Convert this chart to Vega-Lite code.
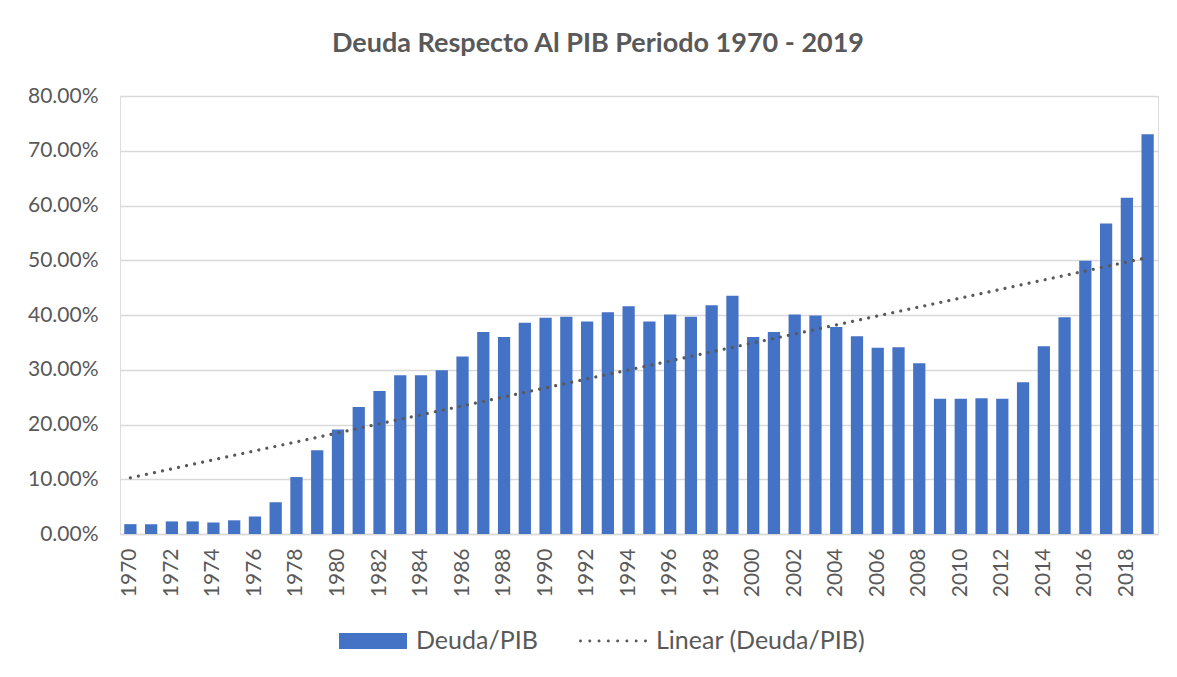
{
  "$schema": "https://vega.github.io/schema/vega-lite/v6.json",
  "autosize": "none",
  "width": 1038,
  "height": 438,
  "padding": {"left": 120, "top": 96, "right": 19, "bottom": 143},
  "background": "white",
  "title": {
    "text": "Deuda Respecto Al PIB Periodo 1970 - 2019",
    "font": "Lato",
    "fontSize": 27,
    "fontWeight": "bold",
    "color": "#595959",
    "anchor": "middle",
    "dx": -41,
    "baseline": "middle",
    "offset": 14
  },
  "data": {
    "values": [
      {"year": 1970, "value": 0.018}, {"year": 1971, "value": 0.018}, {"year": 1972, "value": 0.023},
      {"year": 1973, "value": 0.023}, {"year": 1974, "value": 0.021}, {"year": 1975, "value": 0.025},
      {"year": 1976, "value": 0.032}, {"year": 1977, "value": 0.058}, {"year": 1978, "value": 0.104},
      {"year": 1979, "value": 0.153}, {"year": 1980, "value": 0.191}, {"year": 1981, "value": 0.232},
      {"year": 1982, "value": 0.261}, {"year": 1983, "value": 0.290}, {"year": 1984, "value": 0.290},
      {"year": 1985, "value": 0.299}, {"year": 1986, "value": 0.324}, {"year": 1987, "value": 0.369},
      {"year": 1988, "value": 0.360}, {"year": 1989, "value": 0.386}, {"year": 1990, "value": 0.395},
      {"year": 1991, "value": 0.397}, {"year": 1992, "value": 0.388}, {"year": 1993, "value": 0.405},
      {"year": 1994, "value": 0.416}, {"year": 1995, "value": 0.388}, {"year": 1996, "value": 0.401},
      {"year": 1997, "value": 0.397}, {"year": 1998, "value": 0.418}, {"year": 1999, "value": 0.435},
      {"year": 2000, "value": 0.360}, {"year": 2001, "value": 0.369}, {"year": 2002, "value": 0.401},
      {"year": 2003, "value": 0.399}, {"year": 2004, "value": 0.378}, {"year": 2005, "value": 0.361},
      {"year": 2006, "value": 0.340}, {"year": 2007, "value": 0.341}, {"year": 2008, "value": 0.312},
      {"year": 2009, "value": 0.247}, {"year": 2010, "value": 0.247}, {"year": 2011, "value": 0.248},
      {"year": 2012, "value": 0.247}, {"year": 2013, "value": 0.277}, {"year": 2014, "value": 0.343},
      {"year": 2015, "value": 0.396}, {"year": 2016, "value": 0.499}, {"year": 2017, "value": 0.567},
      {"year": 2018, "value": 0.614}, {"year": 2019, "value": 0.730}
    ]
  },
  "encoding": {
    "x": {
      "field": "year",
      "type": "ordinal",
      "scale": {"paddingInner": 0.41, "paddingOuter": 0.205},
      "axis": {
        "title": null,
        "values": [1970,1972,1974,1976,1978,1980,1982,1984,1986,1988,1990,1992,1994,1996,1998,2000,2002,2004,2006,2008,2010,2012,2014,2016,2018],
        "labelAngle": -90,
        "labelFont": "Lato",
        "labelFontSize": 21,
        "labelColor": "#595959",
        "labelPadding": 14,
        "ticks": false,
        "domainColor": "#d9d9d9",
        "domainWidth": 1.5,
        "grid": false
      }
    },
    "y": {
      "field": "value",
      "type": "quantitative",
      "scale": {"domain": [0, 0.8], "nice": false},
      "axis": {
        "title": null,
        "values": [0, 0.1, 0.2, 0.3, 0.4, 0.5, 0.6, 0.7, 0.8],
        "format": ".2%",
        "labelFont": "Lato",
        "labelFontSize": 21,
        "labelColor": "#595959",
        "labelPadding": 22,
        "ticks": false,
        "domain": false,
        "grid": true,
        "gridColor": "#d9d9d9",
        "gridWidth": 1.5
      }
    }
  },
  "layer": [
    {
      "mark": {"type": "bar", "color": "#4472C4"},
      "encoding": {
        "color": {
          "datum": "Deuda/PIB",
          "scale": {"domain": ["Deuda/PIB", "Linear (Deuda/PIB)"], "range": ["#4472C4", "#595959"]},
          "legend": {
            "title": null,
            "orient": "none",
            "direction": "horizontal",
            "legendX": 219,
            "legendY": 511,
            "padding": 0,
            "symbolSize": 4624,
            "symbolStrokeWidth": 0,
            "labelFont": "Lato",
            "labelFontSize": 25,
            "labelColor": "#595959",
            "labelOffset": 9,
            "labelLimit": 400,
            "columnPadding": 41,
            "encode": {
              "symbols": {
                "update": {
                  "shape": {"signal": "datum.value == 'Deuda/PIB' ? 'M-1,-0.235H1V0.235H-1Z' : 'M-1,0a0.044,0.044 0 1,0 0.088,0a0.044,0.044 0 1,0 -0.088,0M-0.727,0a0.044,0.044 0 1,0 0.088,0a0.044,0.044 0 1,0 -0.088,0M-0.454,0a0.044,0.044 0 1,0 0.088,0a0.044,0.044 0 1,0 -0.088,0M-0.181,0a0.044,0.044 0 1,0 0.088,0a0.044,0.044 0 1,0 -0.088,0M0.092,0a0.044,0.044 0 1,0 0.088,0a0.044,0.044 0 1,0 -0.088,0M0.365,0a0.044,0.044 0 1,0 0.088,0a0.044,0.044 0 1,0 -0.088,0M0.638,0a0.044,0.044 0 1,0 0.088,0a0.044,0.044 0 1,0 -0.088,0M0.911,0a0.044,0.044 0 1,0 0.088,0a0.044,0.044 0 1,0 -0.088,0'"},
                  "fill": {"signal": "datum.value == 'Deuda/PIB' ? '#4472C4' : '#595959'"},
                  "stroke": {"value": "transparent"},
                  "opacity": {"value": 1}
                }
              }
            }
          }
        }
      }
    },
    {
      "transform": [{"regression": "value", "on": "year"}],
      "mark": {"type": "line", "strokeDash": [0.01, 8.2], "strokeCap": "round", "strokeWidth": 3.2},
      "encoding": {
        "color": {"datum": "Linear (Deuda/PIB)"}
      }
    }
  ]
}
